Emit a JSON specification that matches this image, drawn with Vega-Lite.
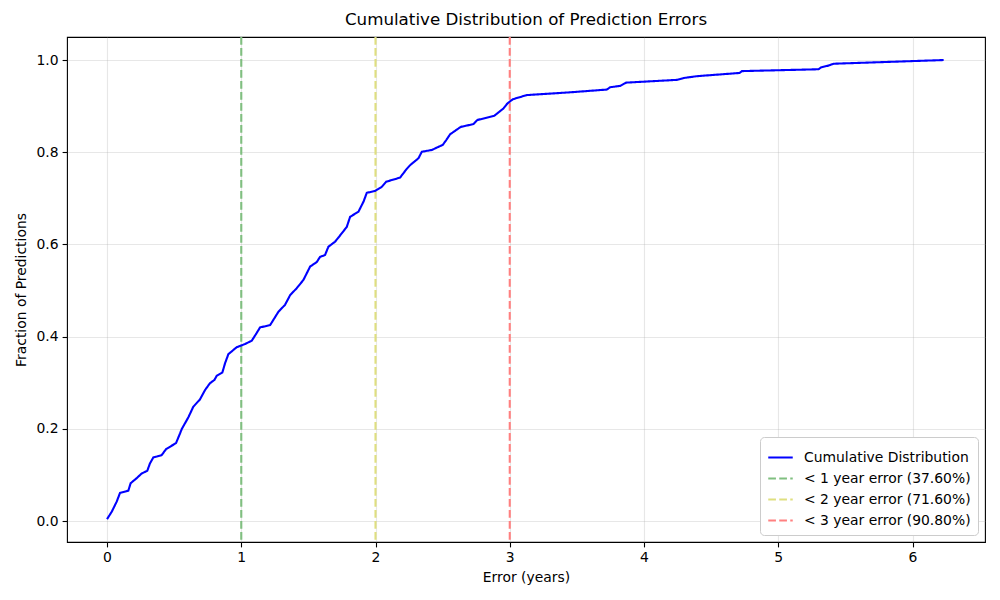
{
  "$schema": "https://vega.github.io/schema/vega-lite/v6.json",
  "width": 918,
  "height": 505,
  "autosize": "none",
  "padding": {"left": 67, "top": 37, "right": 15, "bottom": 58},
  "background": "white",
  "title": {"text": "Cumulative Distribution of Prediction Errors", "fontSize": 16.7, "font": "DejaVu Sans", "fontWeight": "normal", "color": "#000", "offset": 7},
  "config": {
    "font": "DejaVu Sans",
    "view": {"stroke": "#000", "strokeWidth": 1.1},
    "axis": {
      "domain": false,
      "grid": true,
      "gridColor": "#b0b0b0",
      "gridOpacity": 0.3,
      "gridWidth": 1.1,
      "tickColor": "#000",
      "tickSize": 4.9,
      "tickWidth": 1.1,
      "labelFontSize": 13.9,
      "labelColor": "#000",
      "labelPadding": 4,
      "labelFont": "DejaVu Sans",
      "titleFont": "DejaVu Sans",
      "titleFontSize": 13.9,
      "titleFontWeight": "normal",
      "titleColor": "#000"
    },
    "legend": {
      "orient": "bottom-right",
      "offset": 7,
      "strokeColor": "#cccccc",
      "fillColor": "white",
      "cornerRadius": 4,
      "padding": 7,
      "labelFont": "DejaVu Sans",
      "labelFontSize": 13.9,
      "labelColor": "#000",
      "labelLimit": 0,
      "symbolType": "stroke",
      "symbolSize": 600,
      "symbolStrokeWidth": 2.1,
      "rowPadding": 0,
      "labelOffset": 10
    }
  },
  "datasets": {
    "curve": [
      {"x": 0.00, "y": 0.004}, {"x": 0.035, "y": 0.02}, {"x": 0.072, "y": 0.042}, {"x": 0.097, "y": 0.061},
      {"x": 0.159, "y": 0.066}, {"x": 0.176, "y": 0.082}, {"x": 0.221, "y": 0.093}, {"x": 0.258, "y": 0.103},
      {"x": 0.30, "y": 0.109}, {"x": 0.32, "y": 0.125}, {"x": 0.345, "y": 0.138}, {"x": 0.407, "y": 0.143},
      {"x": 0.44, "y": 0.156}, {"x": 0.514, "y": 0.169}, {"x": 0.544, "y": 0.190}, {"x": 0.556, "y": 0.199},
      {"x": 0.606, "y": 0.225}, {"x": 0.643, "y": 0.248}, {"x": 0.693, "y": 0.264}, {"x": 0.730, "y": 0.284},
      {"x": 0.767, "y": 0.299}, {"x": 0.80, "y": 0.306}, {"x": 0.817, "y": 0.315}, {"x": 0.859, "y": 0.322},
      {"x": 0.879, "y": 0.342}, {"x": 0.904, "y": 0.362}, {"x": 0.966, "y": 0.377}, {"x": 1.028, "y": 0.384},
      {"x": 1.078, "y": 0.391}, {"x": 1.115, "y": 0.408}, {"x": 1.14, "y": 0.420}, {"x": 1.215, "y": 0.425},
      {"x": 1.277, "y": 0.454}, {"x": 1.326, "y": 0.469}, {"x": 1.364, "y": 0.490}, {"x": 1.413, "y": 0.505},
      {"x": 1.463, "y": 0.523}, {"x": 1.513, "y": 0.552}, {"x": 1.563, "y": 0.562}, {"x": 1.587, "y": 0.573},
      {"x": 1.624, "y": 0.577}, {"x": 1.649, "y": 0.595}, {"x": 1.699, "y": 0.606},
      {"x": 1.724, "y": 0.615}, {"x": 1.786, "y": 0.638}, {"x": 1.811, "y": 0.66}, {"x": 1.873, "y": 0.671},
      {"x": 1.911, "y": 0.693}, {"x": 1.935, "y": 0.712}, {"x": 1.997, "y": 0.716}, {"x": 2.047, "y": 0.725},
      {"x": 2.079, "y": 0.736}, {"x": 2.183, "y": 0.745}, {"x": 2.233, "y": 0.764}, {"x": 2.258, "y": 0.772},
      {"x": 2.32, "y": 0.787}, {"x": 2.345, "y": 0.801}, {"x": 2.42, "y": 0.805}, {"x": 2.501, "y": 0.816},
      {"x": 2.526, "y": 0.826}, {"x": 2.556, "y": 0.839}, {"x": 2.635, "y": 0.855}, {"x": 2.729, "y": 0.861},
      {"x": 2.759, "y": 0.870}, {"x": 2.884, "y": 0.879}, {"x": 2.953, "y": 0.895}, {"x": 2.983, "y": 0.906},
      {"x": 3.023, "y": 0.915}, {"x": 3.127, "y": 0.924}, {"x": 3.45, "y": 0.930}, {"x": 3.723, "y": 0.936},
      {"x": 3.748, "y": 0.941}, {"x": 3.823, "y": 0.944}, {"x": 3.867, "y": 0.951}, {"x": 4.245, "y": 0.957},
      {"x": 4.295, "y": 0.961}, {"x": 4.394, "y": 0.965}, {"x": 4.712, "y": 0.972}, {"x": 4.729, "y": 0.976},
      {"x": 5.300, "y": 0.980}, {"x": 5.318, "y": 0.984}, {"x": 5.375, "y": 0.988}, {"x": 5.412, "y": 0.992},
      {"x": 6.232, "y": 1.0}
    ],
    "thresholds": [
      {"x": 1, "series": "< 1 year error (37.60%)"},
      {"x": 2, "series": "< 2 year error (71.60%)"},
      {"x": 3, "series": "< 3 year error (90.80%)"}
    ]
  },
  "layer": [
    {
      "data": {"name": "thresholds"},
      "mark": {"type": "rule", "strokeWidth": 2.1},
      "encoding": {
        "x": {"field": "x", "type": "quantitative"},
        "color": {"field": "series", "type": "nominal"},
        "strokeDash": {"field": "series", "type": "nominal"}
      }
    },
    {
      "data": {"name": "curve"},
      "transform": [{"calculate": "'Cumulative Distribution'", "as": "series"}],
      "mark": {"type": "line", "strokeWidth": 2.1},
      "encoding": {
        "x": {
          "field": "x", "type": "quantitative",
          "scale": {"domain": [-0.298, 6.54], "nice": false, "zero": false},
          "axis": {"title": "Error (years)", "values": [0, 1, 2, 3, 4, 5, 6], "format": "d", "titlePadding": 6}
        },
        "y": {
          "field": "y", "type": "quantitative",
          "scale": {"domain": [-0.0455, 1.05], "nice": false, "zero": false},
          "axis": {"title": "Fraction of Predictions", "values": [0, 0.2, 0.4, 0.6, 0.8, 1.0], "format": ".1f", "titlePadding": 8}
        },
        "color": {
          "field": "series", "type": "nominal",
          "scale": {
            "domain": ["Cumulative Distribution", "< 1 year error (37.60%)", "< 2 year error (71.60%)", "< 3 year error (90.80%)"],
            "range": ["#0000ff", "#80bf80", "#dfdf80", "#ff8080"]
          },
          "legend": {"title": null}
        },
        "strokeDash": {
          "field": "series", "type": "nominal",
          "scale": {
            "domain": ["Cumulative Distribution", "< 1 year error (37.60%)", "< 2 year error (71.60%)", "< 3 year error (90.80%)"],
            "range": [[1, 0], [7.7, 3.3], [7.7, 3.3], [7.7, 3.3]]
          },
          "legend": {"title": null}
        }
      }
    }
  ]
}
